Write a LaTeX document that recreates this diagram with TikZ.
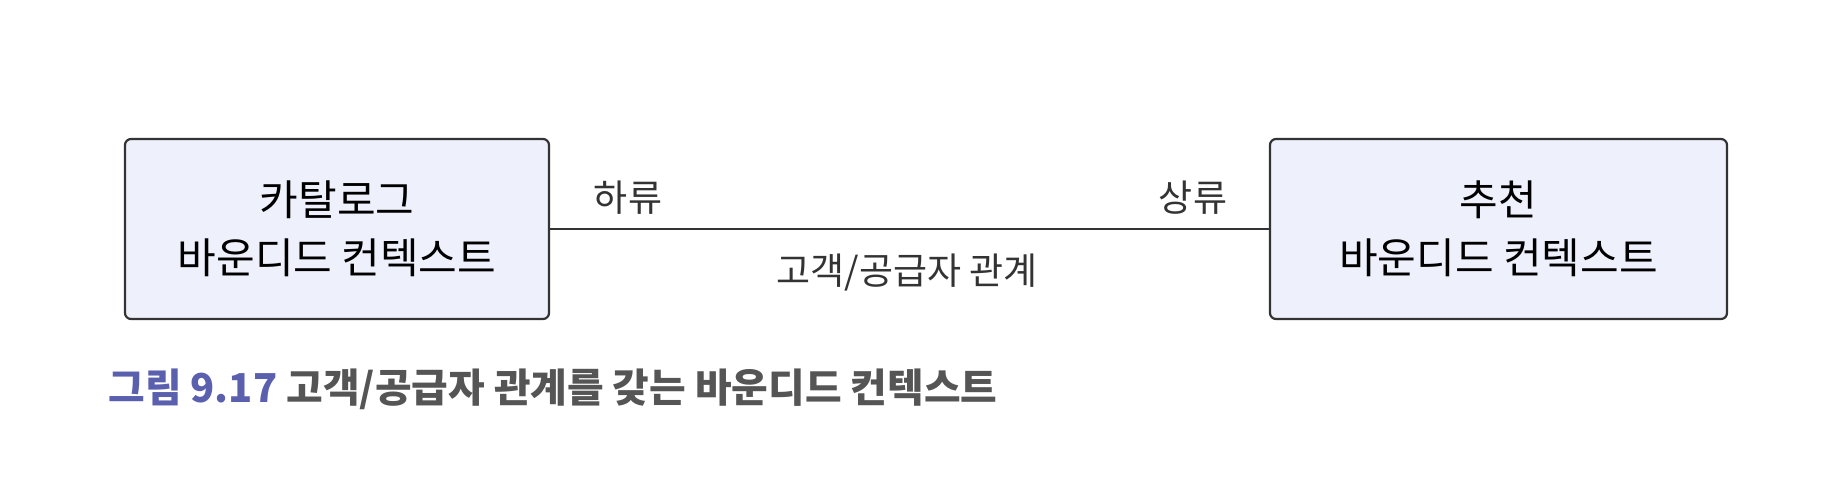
\documentclass[tikz,border=0pt]{standalone}
\usepackage{fontspec}
\setmainfont{Noto Sans CJK KR}
\definecolor{linegray}{HTML}{333333}
\definecolor{ctxfill}{HTML}{EEF0FC}
\definecolor{capblue}{HTML}{5A5FAE}
\definecolor{capgray}{HTML}{555555}

\begin{document}
\begin{tikzpicture}[x=0.5pt,y=-0.5pt,font=\fontsize{18.5}{22}\selectfont,
  ctx/.style={draw=linegray,line width=1.1pt,fill=ctxfill,rounded corners=3pt,
    minimum height=90pt,inner sep=0pt,align=center,
    font=\fontsize{21}{29}\selectfont}]

\useasboundingbox (0,0) rectangle (1848,484);

\node[ctx,minimum width=212pt] (catalog) at (337,229) {카탈로그\\바운디드 컨텍스트};
\node[ctx,minimum width=228.5pt] (recommend) at (1498.5,229) {추천\\바운디드 컨텍스트};

\draw[linegray,line width=1.1pt] (catalog) -- (recommend);

\begin{scope}[text=linegray]
\node (downstream) at (628,198) {하류};
\node (upstream) at (1193,198) {상류};
\node (relation) at (907,273) {고객/공급자 관계};
\end{scope}

\node[anchor=west,inner sep=0pt,font=\fontsize{19.9}{24}\selectfont\bfseries] (caption) at (108,389)
  {\textcolor{capblue}{그림 9.17} \textcolor{capgray}{고객/공급자 관계를 갖는 바운디드 컨텍스트}};

\end{tikzpicture}
\end{document}
